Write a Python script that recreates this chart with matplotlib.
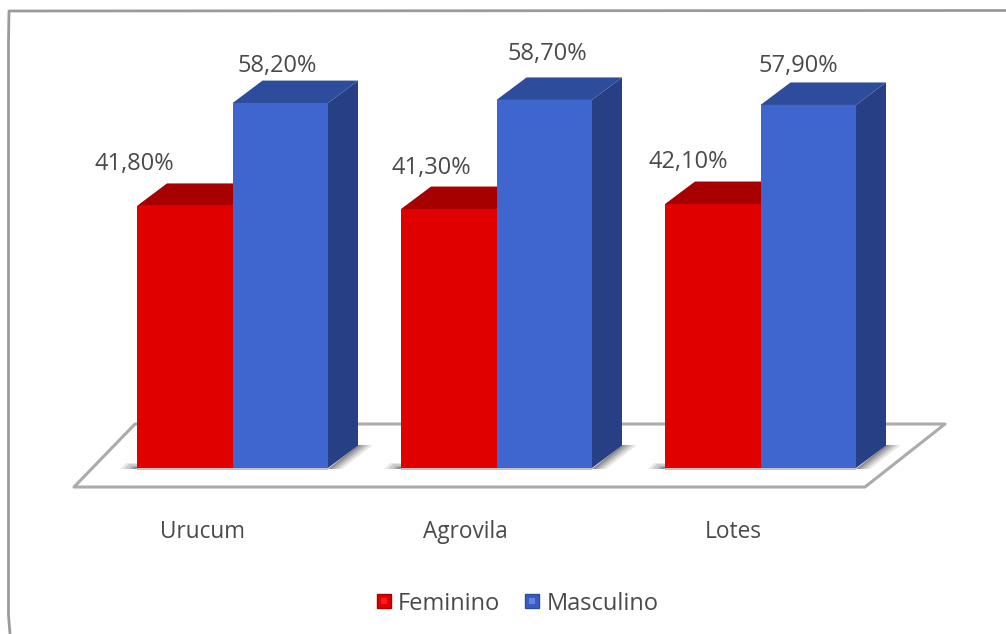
import matplotlib
matplotlib.use("Agg")
import matplotlib.pyplot as plt
from matplotlib.patches import Polygon, Rectangle

# ---- data ----
categories = ["Urucum", "Agrovila", "Lotes"]
series_names = ["Feminino", "Masculino"]
feminino = [41.8, 41.3, 42.1]
masculino = [58.2, 58.7, 57.9]
value_labels_f = ["41,80%", "41,30%", "42,10%"]
value_labels_m = ["58,20%", "58,70%", "57,90%"]

W, H = 1006, 634
PX_X = 264.0   # pixels per category
PX_Y = 6.27    # pixels per percent
X0, Y0 = 232.5, 468.0  # pixel position of category 0 / value 0

plt.rcParams["font.family"] = ["Open Sans", "DejaVu Sans"]
fig = plt.figure(figsize=(W / 100, H / 100), dpi=100, facecolor="white")
ax = fig.add_axes([0, 0, 1, 1])
ax.set_xlim((0 - X0) / PX_X, (W - X0) / PX_X)
ax.set_ylim((Y0 - H) / PX_Y, Y0 / PX_Y)
ax.axis("off")


def dx(px):
    return px / PX_X


def dy(px):
    return px / PX_Y


def fx(px):
    return dx(px - X0)


def fy(px):
    return dy(Y0 - px)


BAR_W = dx(95.5)
DEPTH_X = dx(30)
DEPTH_Y = dy(22.5)
TXT = "#4a4a4a"
GREY = "#ababab"

# label placement, pixels from group centre / bar top
f_label_dx = [-98.5, -65, -72.5]
f_label_dy = [42, 41, 42]
m_label_dx = [45, 51, 37.5]
m_label_dy = [37, 46, 39]
cat_dx = [-30.5, -31, -27.5]

# outer frame
ax.plot([fx(10), fx(8.5), fx(8.5), fx(9), fx(W)],
        [fy(H), fy(615), fy(40), fy(11), fy(10.5)],
        color="#9a9a9a", lw=2.0, zorder=1, solid_joinstyle="round")

# floor
floor_y_front, floor_y_back = fy(487), fy(424)
ax.add_patch(Polygon([(fx(74), floor_y_front), (fx(865), floor_y_front),
                      (fx(945), floor_y_back), (fx(135), floor_y_back)],
                     closed=True, facecolor="white", edgecolor=GREY, lw=2.2,
                     zorder=2, joinstyle="round"))

# soft shadows at the foot of each group
for i in range(len(categories)):
    for k, a in enumerate([0.12, 0.16, 0.22, 0.30]):
        g = 1 - k / 4
        # to the right, along the side of the bar
        ax.add_patch(Polygon([
            (i + BAR_W, dy(-1)),
            (i + BAR_W + DEPTH_X, DEPTH_Y * 1.02),
            (i + BAR_W + DEPTH_X + dx(15 * g), DEPTH_Y * 1.02),
            (i + BAR_W + dx(14 * g), dy(-1)),
        ], closed=True, facecolor="#444444", edgecolor="none", alpha=a, zorder=2.5))
        # to the left of the red bar
        ax.add_patch(Polygon([
            (i - BAR_W - dx(17 * g), dy(-1)),
            (i - BAR_W, dy(-1)),
            (i - BAR_W, dy(5 * g)),
            (i - BAR_W - dx(11 * g), dy(5 * g)),
        ], closed=True, facecolor="#444444", edgecolor="none", alpha=a, zorder=2.5))
    # thin band under the front faces
    ax.add_patch(Rectangle((i - BAR_W, dy(-2)), 2 * BAR_W, dy(2), facecolor="#888888",
                           edgecolor="none", alpha=0.5, zorder=2.5))


def bar3d(x_left, value, front, top, side, z):
    w = BAR_W
    ax.add_patch(Polygon([(x_left + w, 0), (x_left + w + DEPTH_X, DEPTH_Y),
                          (x_left + w + DEPTH_X, value + DEPTH_Y), (x_left + w, value)],
                         closed=True, facecolor=side, edgecolor="none", zorder=z))
    ax.add_patch(Polygon([(x_left, value), (x_left + w, value),
                          (x_left + w + DEPTH_X, value + DEPTH_Y), (x_left + DEPTH_X, value + DEPTH_Y)],
                         closed=True, facecolor=top, edgecolor="none", zorder=z))
    ax.add_patch(Rectangle((x_left, 0), w, value, facecolor=front, edgecolor="none", zorder=z + 0.1))


for i, (f, m) in enumerate(zip(feminino, masculino)):
    bar3d(i - BAR_W, f, "#e00000", "#a60000", "#a60000", 3 + i)
    bar3d(i, m, "#3f65cf", "#2e4c9c", "#263f85", 3.5 + i)

    ax.text(i + dx(f_label_dx[i]), f + dy(f_label_dy[i]), value_labels_f[i], ha="center", va="center",
            fontsize=17, color=TXT, zorder=10)
    ax.text(i + dx(m_label_dx[i]), m + dy(m_label_dy[i]), value_labels_m[i], ha="center", va="center",
            fontsize=17, color=TXT, zorder=10)

# category labels
for i, c in enumerate(categories):
    ax.text(i + dx(cat_dx[i]), fy(532), c, ha="center", va="center",
            fontsize=16.3, color=TXT, zorder=10)

# legend
leg_y = fy(601)
for name, col, inner, edge, sx, tx in [
    (series_names[0], "#dd0000", "#ff1a1a", "#a80000", 377, 398),
    (series_names[1], "#3a5cc0", "#5f83e0", "#2e4c9c", 525, 547),
]:
    ax.add_patch(Rectangle((fx(sx), leg_y - dy(7)), dx(14), dy(14), facecolor=col,
                           edgecolor=edge, lw=1, zorder=10))
    ax.add_patch(Rectangle((fx(sx + 4), leg_y - dy(3)), dx(6), dy(6), facecolor=inner,
                           edgecolor="none", zorder=10.5))
    ax.text(fx(tx), leg_y - dy(2.5), name, ha="left", va="center", fontsize=17, color=TXT, zorder=10)

fig.savefig("out.png", dpi=100, facecolor="white")
